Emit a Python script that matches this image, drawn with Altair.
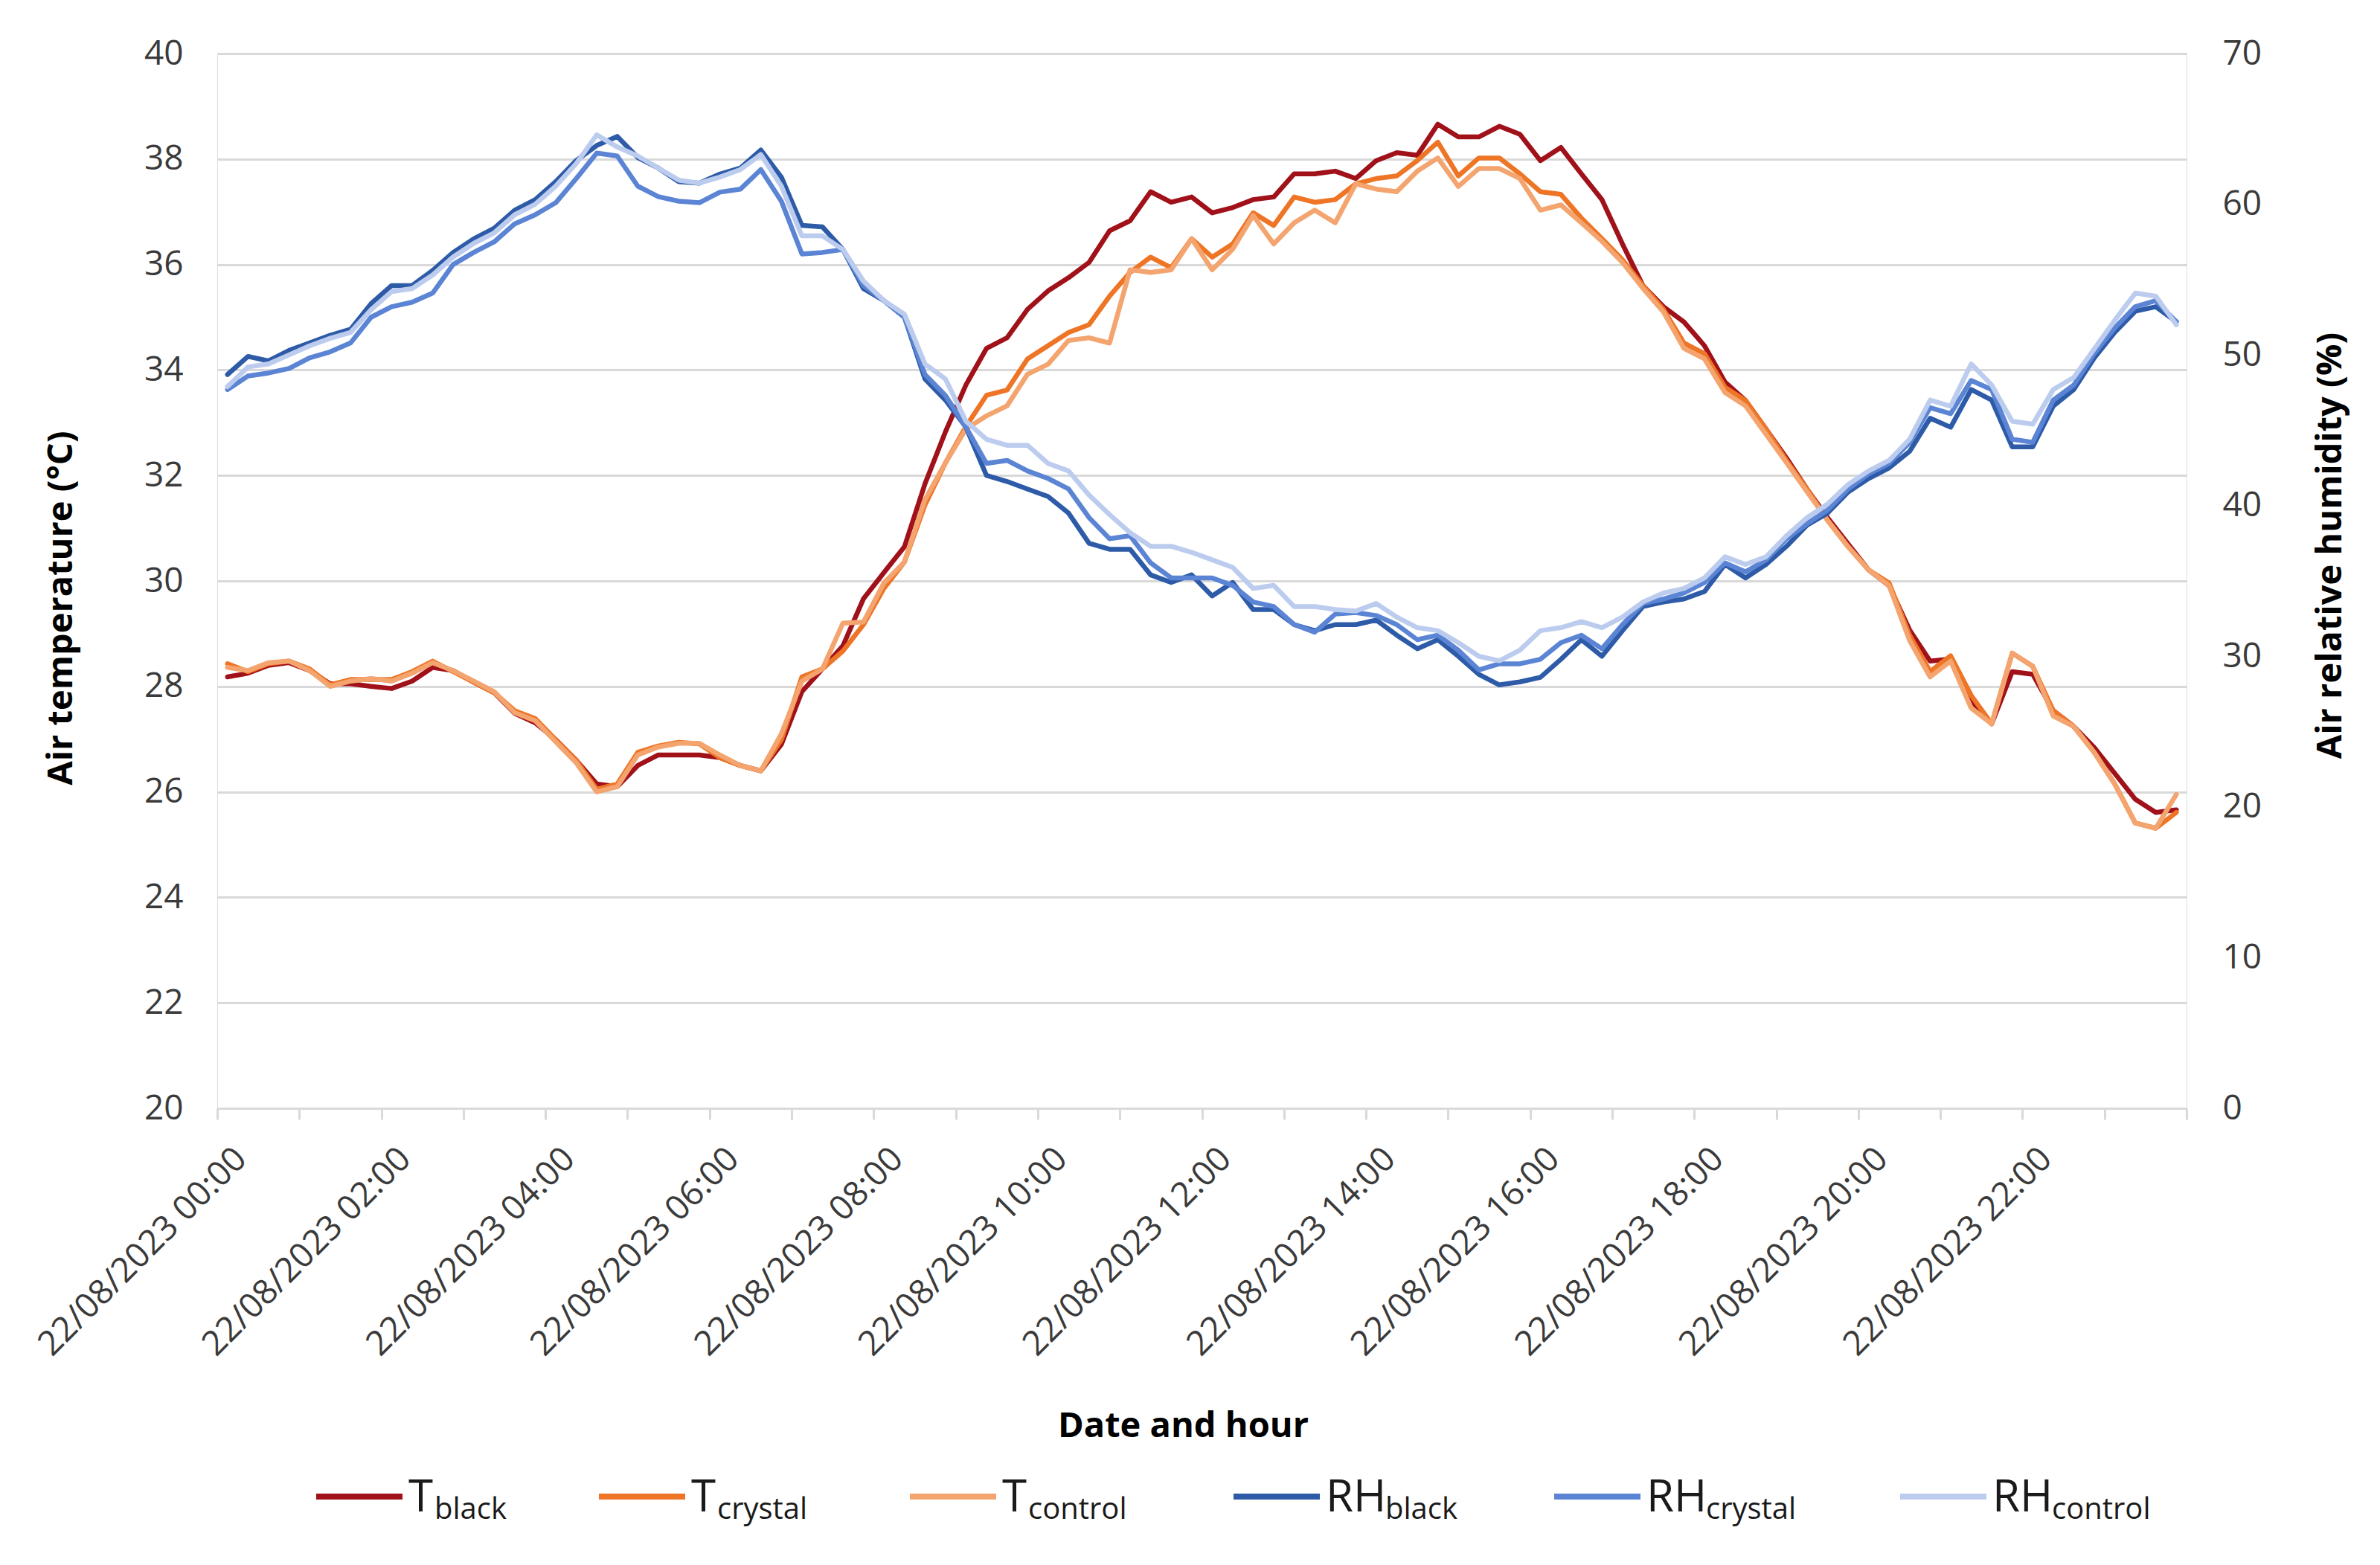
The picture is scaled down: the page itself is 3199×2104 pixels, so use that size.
import altair as alt
import pandas as pd

# ---------------- data ----------------
times = [f"{h:02d}:{m:02d}" for h in range(24) for m in (0, 15, 30, 45)]

t_black = [28.18, 28.25, 28.40, 28.45, 28.30, 28.05, 28.05, 28.00, 27.96, 28.10, 28.36, 28.30, 28.08, 27.88, 27.49, 27.31,
           26.99, 26.60, 26.15, 26.10, 26.50, 26.70, 26.70, 26.70, 26.65, 26.50, 26.40, 26.90, 27.90,
           28.33, 28.77, 29.66, 30.16, 30.65, 31.84, 32.83, 33.72, 34.41, 34.61, 35.15, 35.50, 35.75, 36.04, 36.64,
           36.83, 37.38, 37.18, 37.28, 36.98, 37.08, 37.23, 37.28, 37.72, 37.72, 37.77, 37.63, 37.97,
           38.12, 38.07, 38.66, 38.42, 38.42, 38.62, 38.47, 37.97, 38.22, 37.72, 37.23, 36.39, 35.60, 35.20, 34.91,
           34.46, 33.77, 33.42, 32.88, 32.33, 31.74, 31.20, 30.70, 30.21, 29.91, 29.07, 28.48,
           28.52, 27.73, 27.29, 28.28, 28.23, 27.54, 27.24, 26.84, 26.35, 25.86, 25.61, 25.66]

t_crystal = [28.43, 28.28, 28.43, 28.48, 28.33, 28.03, 28.13, 28.13, 28.13, 28.28, 28.48, 28.28, 28.08, 27.88, 27.54, 27.39,
             26.99, 26.60, 26.05, 26.15, 26.75, 26.87, 26.94, 26.91, 26.65, 26.50, 26.40, 26.99, 28.18,
             28.33, 28.67, 29.17, 29.86, 30.36, 31.44, 32.24, 32.93, 33.52, 33.62, 34.21, 34.46, 34.71, 34.86, 35.40,
             35.85, 36.14, 35.94, 36.49, 36.14, 36.39, 36.98, 36.74, 37.28, 37.18, 37.23, 37.53, 37.63,
             37.68, 37.97, 38.32, 37.68, 38.02, 38.02, 37.72, 37.38, 37.33, 36.88, 36.49, 36.09, 35.60, 35.15, 34.51,
             34.31, 33.67, 33.42, 32.88, 32.28, 31.74, 31.15, 30.65, 30.21, 29.96, 28.97, 28.28,
             28.58, 27.83, 27.29, 28.63, 28.38, 27.54, 27.24, 26.75, 26.15, 25.41, 25.31, 25.61]

t_control = [28.36, 28.30, 28.45, 28.48, 28.30, 28.00, 28.10, 28.15, 28.10, 28.25, 28.45, 28.30, 28.10, 27.90, 27.50, 27.35,
             26.95, 26.55, 26.00, 26.10, 26.70, 26.85, 26.92, 26.92, 26.70, 26.50, 26.40, 27.10, 28.10,
             28.33, 29.20, 29.22, 29.96, 30.36, 31.54, 32.24, 32.88, 33.13, 33.32, 33.92, 34.11, 34.56, 34.61, 34.51,
             35.90, 35.85, 35.90, 36.49, 35.90, 36.29, 36.93, 36.39, 36.79, 37.03, 36.79, 37.53, 37.43,
             37.38, 37.77, 38.02, 37.48, 37.82, 37.82, 37.63, 37.03, 37.13, 36.79, 36.44, 36.04, 35.55, 35.10, 34.41,
             34.21, 33.57, 33.32, 32.78, 32.24, 31.69, 31.15, 30.65, 30.21, 29.91, 28.87, 28.18,
             28.48, 27.59, 27.29, 28.63, 28.38, 27.44, 27.24, 26.75, 26.15, 25.41, 25.31, 25.95]

rh_black = [48.7, 49.9, 49.6, 50.3, 50.8, 51.3, 51.7, 53.4, 54.6, 54.6, 55.6, 56.8, 57.7, 58.4, 59.6, 60.3,
            61.5, 62.9, 63.9, 64.5, 63.1, 62.4, 61.5, 61.4, 62.0, 62.4, 63.6, 61.8, 58.6,
            58.5, 57.0, 54.4, 53.6, 52.5, 48.4, 47.0, 45.2, 42.0, 41.6, 41.1, 40.6, 39.5, 37.5, 37.1,
            37.1, 35.4, 34.9, 35.4, 34.0, 34.9, 33.1, 33.1, 32.1, 31.7, 32.1, 32.1, 32.4,
            31.4, 30.5, 31.1, 30.0, 28.8, 28.1, 28.3, 28.6, 29.8, 31.1, 30.0, 31.7, 33.3, 33.6, 33.8,
            34.3, 36.1, 35.2, 36.1, 37.3, 38.7, 39.5, 40.9, 41.8, 42.5, 43.6, 45.8,
            45.2, 47.7, 47.0, 43.9, 43.9, 46.6, 47.7, 49.8, 51.5, 52.9, 53.2, 52.2]

rh_crystal = [47.7, 48.6, 48.8, 49.1, 49.8, 50.2, 50.8, 52.5, 53.2, 53.5, 54.1, 56.0, 56.8, 57.5, 58.7, 59.3,
              60.1, 61.7, 63.4, 63.2, 61.2, 60.5, 60.2, 60.1, 60.8, 61.0, 62.3, 60.2, 56.7,
              56.8, 57.0, 54.6, 53.6, 52.5, 48.7, 47.3, 45.2, 42.8, 43.0, 42.3, 41.8, 41.1, 39.2, 37.8,
              38.0, 36.2, 35.2, 35.2, 35.2, 34.7, 33.6, 33.3, 32.1, 31.6, 32.8, 32.9, 32.7,
              32.1, 31.1, 31.4, 30.4, 29.1, 29.5, 29.5, 29.8, 30.9, 31.4, 30.5, 32.1, 33.5, 33.8, 34.2,
              34.9, 36.2, 35.6, 36.4, 37.8, 38.8, 39.7, 41.1, 42.1, 42.8, 44.2, 46.5,
              46.1, 48.3, 47.7, 44.4, 44.2, 47.0, 48.0, 50.1, 51.8, 53.2, 53.6, 52.2]

rh_control = [47.9, 49.2, 49.4, 50.0, 50.6, 51.1, 51.5, 53.0, 54.2, 54.4, 55.3, 56.5, 57.4, 58.1, 59.3, 60.0,
              61.2, 62.7, 64.6, 63.8, 63.2, 62.4, 61.6, 61.4, 61.8, 62.3, 63.3, 61.2, 57.9,
              57.9, 57.0, 54.9, 53.6, 52.7, 49.4, 48.4, 45.6, 44.4, 44.0, 44.0, 42.8, 42.3, 40.7, 39.4,
              38.2, 37.3, 37.3, 36.9, 36.4, 35.9, 34.5, 34.7, 33.3, 33.3, 33.1, 33.0, 33.5,
              32.6, 31.9, 31.7, 30.9, 30.0, 29.7, 30.4, 31.7, 31.9, 32.3, 31.9, 32.6, 33.6, 34.2, 34.5,
              35.2, 36.6, 36.1, 36.6, 38.0, 39.2, 40.1, 41.4, 42.3, 43.0, 44.4, 47.0,
              46.6, 49.4, 48.0, 45.6, 45.4, 47.7, 48.5, 50.4, 52.3, 54.1, 53.9, 52.0]

temp_names = ["T_black", "T_crystal", "T_control"]
rh_names = ["RH_black", "RH_crystal", "RH_control"]
legend_main = ["T", "T", "T", "RH", "RH", "RH"]
legend_sub = ["black", "crystal", "control", "black", "crystal", "control"]

# ---------------- styling ----------------
COLORS = ["#A0111A", "#EE7526", "#F4A46E", "#2E5BA8", "#5B85D4", "#BCCCEE"]
FONT = "Open Sans"
W, H = 2647, 1418
LINE_W = 6.5
TICK_FS = 46
TITLE_FS = 47


def hours(t):
    return int(t[:2]) + int(t[3:]) / 60.0


def series_df(vals):
    return pd.DataFrame({"time": times, "hour": [hours(t) for t in times], "value": vals})


# Excel-like category axis: each 15-min category sits in the middle of its slot
x_ticks = [k - 0.125 for k in range(25)]
label_expr = ("(round(datum.value + 0.125) % 2 == 0 && round(datum.value + 0.125) < 24) ? "
              "'22/08/2023 ' + (round(datum.value + 0.125) < 10 ? '0' : '') + round(datum.value + 0.125) + ':00' : ''")

x_enc = alt.X(
    "hour:Q",
    scale=alt.Scale(domain=[-0.125, 23.875], nice=False, zero=False),
    axis=alt.Axis(
        values=x_ticks, labelExpr=label_expr, labelAngle=-45, labelAlign="right", labelBaseline="top",
        labelPadding=30, labelOffset=16, labelFontSize=TICK_FS, labelFont=FONT, labelColor="#3a3a3a",
        labelLimit=0,
        ticks=True, tickSize=15, tickColor="#D9D9D9", tickWidth=3, domain=True, domainColor="#D9D9D9",
        domainWidth=3, grid=False, labelOverlap=False, labelFlush=False,
        title="Date and hour", titleFontSize=TITLE_FS, titleFont=FONT, titleFontWeight="bold",
        titleColor="#000000", titleX=1298, titleY=427, titleBaseline="middle", titleAnchor="start",
        titleAlign="center",
    ),
)

y_temp = alt.Y(
    "value:Q",
    scale=alt.Scale(domain=[20, 40], nice=False, zero=False),
    axis=alt.Axis(
        values=list(range(20, 41, 2)), format="d", grid=True, gridColor="#D9D9D9", gridWidth=3,
        ticks=False, tickSize=0, domain=False, labelPadding=46, labelFontSize=TICK_FS, labelFont=FONT,
        labelColor="#3a3a3a", labelBaseline="middle",
        title="Air temperature (°C)", titleFontSize=TITLE_FS, titleFont=FONT, titleFontWeight="bold",
        titleColor="#000000", titleAngle=270, titleX=-210, titleY=745, titleBaseline="middle",
        titleAlign="center",
    ),
)

y_rh = alt.Y(
    "value:Q",
    scale=alt.Scale(domain=[0, 70], nice=False, zero=True),
    axis=alt.Axis(
        orient="right", values=list(range(0, 71, 10)), format="d", grid=False, ticks=False, tickSize=0,
        domain=False, labelPadding=48, labelFontSize=TICK_FS, labelFont=FONT, labelColor="#3a3a3a",
        labelBaseline="middle",
        title="Air relative humidity (%)", titleFontSize=TITLE_FS, titleFont=FONT, titleFontWeight="bold",
        titleColor="#000000", titleAngle=270, titleX=193, titleY=661, titleBaseline="middle",
        titleAlign="center",
    ),
)


def line_layer(vals, color, y_enc):
    return alt.Chart(series_df(vals)).mark_line(
        color=color, strokeWidth=LINE_W, strokeJoin="round", strokeCap="round"
    ).encode(x=x_enc, y=y_enc)


temp_layer = alt.layer(
    line_layer(t_black, COLORS[0], y_temp),
    line_layer(t_crystal, COLORS[1], y_temp),
    line_layer(t_control, COLORS[2], y_temp),
)
rh_layer = alt.layer(
    line_layer(rh_black, COLORS[3], y_rh),
    line_layer(rh_crystal, COLORS[4], y_rh),
    line_layer(rh_control, COLORS[5], y_rh),
)

# ---------------- custom legend with subscripts ----------------
legend_line_x = [133, 513, 931, 1366, 1797, 2262]
LEG_Y = 1940
dummy = alt.Data(values=[{"k": 0}])
legend_layers = []
for k in range(6):
    lx = legend_line_x[k]
    main = legend_main[k]
    sub = legend_sub[k]
    main_w = 35 if main == "T" else 80
    legend_layers.append(
        alt.Chart(dummy).mark_rule(color=COLORS[k], strokeWidth=8).encode(
            x=alt.value(lx), x2=alt.value(lx + 116), y=alt.value(LEG_Y)
        )
    )
    legend_layers.append(
        alt.Chart(dummy).mark_text(
            text=main, align="left", baseline="alphabetic", fontSize=60, font=FONT, color="#1a1a1a"
        ).encode(x=alt.value(lx + 124), y=alt.value(LEG_Y + 20))
    )
    legend_layers.append(
        alt.Chart(dummy).mark_text(
            text=sub, align="left", baseline="alphabetic", fontSize=40, font=FONT, color="#1a1a1a"
        ).encode(x=alt.value(lx + 124 + main_w), y=alt.value(LEG_Y + 30))
    )

chart = alt.layer(temp_layer, rh_layer, *legend_layers).resolve_scale(y="independent").properties(
    width=W, height=H,
    padding={"left": 284, "top": 64, "right": 240, "bottom": 590},
    autosize=alt.AutoSizeParams(type="none"),
).configure_view(stroke=None).configure(background="white")

chart.save("out.html", embed_options={"renderer": "svg", "actions": False})
